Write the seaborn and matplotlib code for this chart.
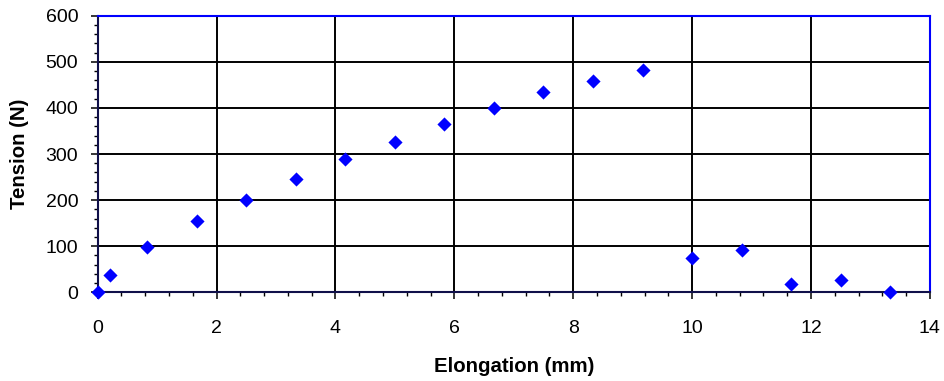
import matplotlib
matplotlib.use('Agg')
import matplotlib.pyplot as plt
from matplotlib.ticker import MultipleLocator
import seaborn as sns
import pandas as pd

# Elongation (mm) and tension (N)
elongation = [0.0, 0.2, 0.833, 1.667, 2.5, 3.333, 4.167, 5.0, 5.833, 6.667,
              7.5, 8.333, 9.167, 10.0, 10.833, 11.667, 12.5, 13.333]
tension = [0, 38, 99, 155, 200, 246, 289, 326, 365, 400,
           435, 459, 483, 75, 91, 19, 26, 0]

df = pd.DataFrame({'Elongation (mm)': elongation, 'Tension (N)': tension})

sns.set_style('white')
plt.rcParams['font.family'] = ['Liberation Sans', 'DejaVu Sans']
plt.rcParams['text.color'] = 'black'
plt.rcParams['axes.labelcolor'] = 'black'
plt.rcParams['xtick.color'] = 'black'
plt.rcParams['ytick.color'] = 'black'

fig = plt.figure(figsize=(9.44, 3.81), dpi=100)
ax = fig.add_axes([0.1035, 0.2328, 0.985 - 0.1035, 0.9588 - 0.2328])

sns.scatterplot(data=df, x='Elongation (mm)', y='Tension (N)', ax=ax,
                marker='D', color='#0000FF', s=52, linewidth=0,
                clip_on=False, zorder=5)

ax.set_xlim(0, 14)
ax.set_ylim(0, 600)
ax.xaxis.set_major_locator(MultipleLocator(2))
ax.xaxis.set_minor_locator(MultipleLocator(0.4))
ax.yaxis.set_major_locator(MultipleLocator(100))
ax.yaxis.set_minor_locator(MultipleLocator(20))

ax.grid(True, which='major', color='black', linewidth=1.4)
ax.set_axisbelow(True)

ax.tick_params(axis='both', which='major', direction='out', length=5, width=1.1,
               labelsize=14, pad=9, bottom=True, left=True)
ax.tick_params(axis='both', which='minor', direction='out', length=3, width=1.0,
               bottom=True, left=True)
ax.tick_params(axis='x', which='major', pad=15)

for side in ['top', 'right']:
    ax.spines[side].set_color('#0000FF')
    ax.spines[side].set_linewidth(1.5)
for side in ['left', 'bottom']:
    ax.spines[side].set_color('#10104a')
    ax.spines[side].set_linewidth(1.5)

ax.set_xlabel('Elongation (mm)', fontsize=14.7, fontweight='bold', labelpad=14)
ax.set_ylabel('Tension (N)', fontsize=14.7, fontweight='bold', labelpad=12)

fig.savefig('out.png', dpi=100)
